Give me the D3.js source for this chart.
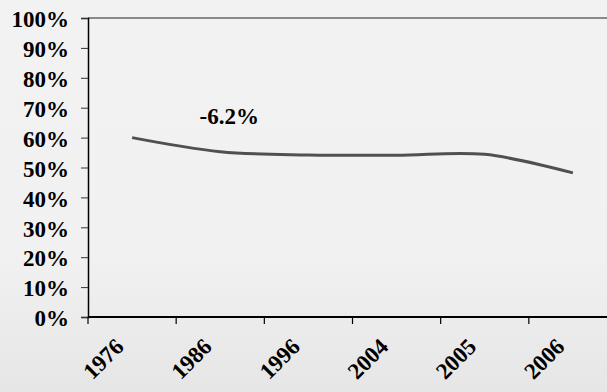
<!DOCTYPE html>
<html>
<head>
<meta charset="utf-8">
<script src="https://cdn.jsdelivr.net/npm/d3@7"></script>
<style>
    html, body {margin: 0; padding: 0; overflow: hidden;}
    body {width: 607px; height: 392px;}
    text {font-family: "Liberation Serif", "Times New Roman", serif; font-weight: bold; fill: #000;}
</style>
</head>
<body>
<div id="chart"></div>
<script>
const years = ["1976", "1986", "1996", "2004", "2005", "2006"];
const shares = [60.0, 55.3, 54.2, 54.1, 54.4, 48.2];
const yTicks = [0, 10, 20, 30, 40, 50, 60, 70, 80, 90, 100];
const note = {label: "-6.2%", year: "1986", value: 64.5};

const width = 607;
const height = 392;
const margin = {top: 18, right: 0, bottom: 75, left: 88};
const plotRight = 617;
const innerWidth = plotRight - margin.left;
const innerHeight = height - margin.top - margin.bottom;

const svg = d3.select("#chart")
    .append("svg")
    .attr("width", width)
    .attr("height", height)
    .style("overflow", "hidden");

// slide-like background, slightly darker toward the bottom
const grad = svg.append("defs").append("linearGradient")
    .attr("id", "bg")
    .attr("x1", 0).attr("y1", 0).attr("x2", 0).attr("y2", 1);
grad.append("stop").attr("offset", "0%").attr("stop-color", "#f2f2f2");
grad.append("stop").attr("offset", "65%").attr("stop-color", "#f1f1f1");
grad.append("stop").attr("offset", "100%").attr("stop-color", "#e6e6e6");

svg.append("rect")
    .attr("width", width)
    .attr("height", height)
    .attr("fill", "url(#bg)");

const graph = svg.append("g")
    .attr("transform", `translate(${margin.left}, ${margin.top})`);

const xScale = d3.scaleBand()
    .domain(years)
    .range([0, innerWidth]);

const yScale = d3.scaleLinear()
    .domain([0, 100])
    .range([innerHeight, 0]);

const xCenter = d => xScale(d) + xScale.bandwidth() / 2;
const visibleRight = width - margin.left;

// top border
graph.append("line")
    .attr("x1", 0)
    .attr("x2", visibleRight)
    .attr("y1", yScale(100))
    .attr("y2", yScale(100))
    .attr("stroke", "#666")
    .attr("stroke-width", 1.3);

// y axis
const yAxis = graph.append("g")
    .attr("class", "y-axis")
    .call(d3.axisLeft(yScale).tickValues(yTicks).tickFormat(d => d + "%").tickSize(7).tickPadding(12));
yAxis.select(".domain").attr("stroke", "#000").attr("stroke-width", 1.5);
yAxis.selectAll(".tick line").attr("stroke", "#333");
yAxis.selectAll("text")
    .style("font-size", "23px")
    .style("font-family", "'Liberation Serif', serif")
    .style("font-weight", "bold")
    .attr("dy", "0.38em");

// x axis: ticks on band edges
const xAxis = graph.append("g")
    .attr("class", "x-axis")
    .attr("transform", `translate(0, ${innerHeight})`);
xAxis.append("line")
    .attr("x1", 0)
    .attr("x2", visibleRight)
    .attr("stroke", "#000")
    .attr("stroke-width", 2);
xAxis.selectAll(".edge")
    .data(years)
    .join("line")
    .attr("class", "edge")
    .attr("x1", d => xScale(d))
    .attr("x2", d => xScale(d))
    .attr("y1", 0)
    .attr("y2", 7)
    .attr("stroke", "#000")
    .attr("stroke-width", 1.2);
xAxis.selectAll(".label")
    .data(years)
    .join("text")
    .attr("class", "label")
    .attr("transform", d => `translate(${xCenter(d) - 7}, 31) rotate(-45)`)
    .attr("text-anchor", "end")
    .style("font-size", "23px")
    .text(d => d);

// share line (smoothed like the spreadsheet original)
const line = d3.line()
    .x((d, i) => xCenter(years[i]))
    .y(d => yScale(d))
    .curve(d3.curveCatmullRom);

graph.append("path")
    .datum(shares)
    .attr("fill", "none")
    .attr("stroke", "#505050")
    .attr("stroke-width", 3)
    .attr("d", line);

graph.append("text")
    .attr("x", xCenter(note.year) + 9)
    .attr("y", yScale(note.value))
    .attr("text-anchor", "middle")
    .style("font-size", "23px")
    .text(note.label);
</script>
</body>
</html>
